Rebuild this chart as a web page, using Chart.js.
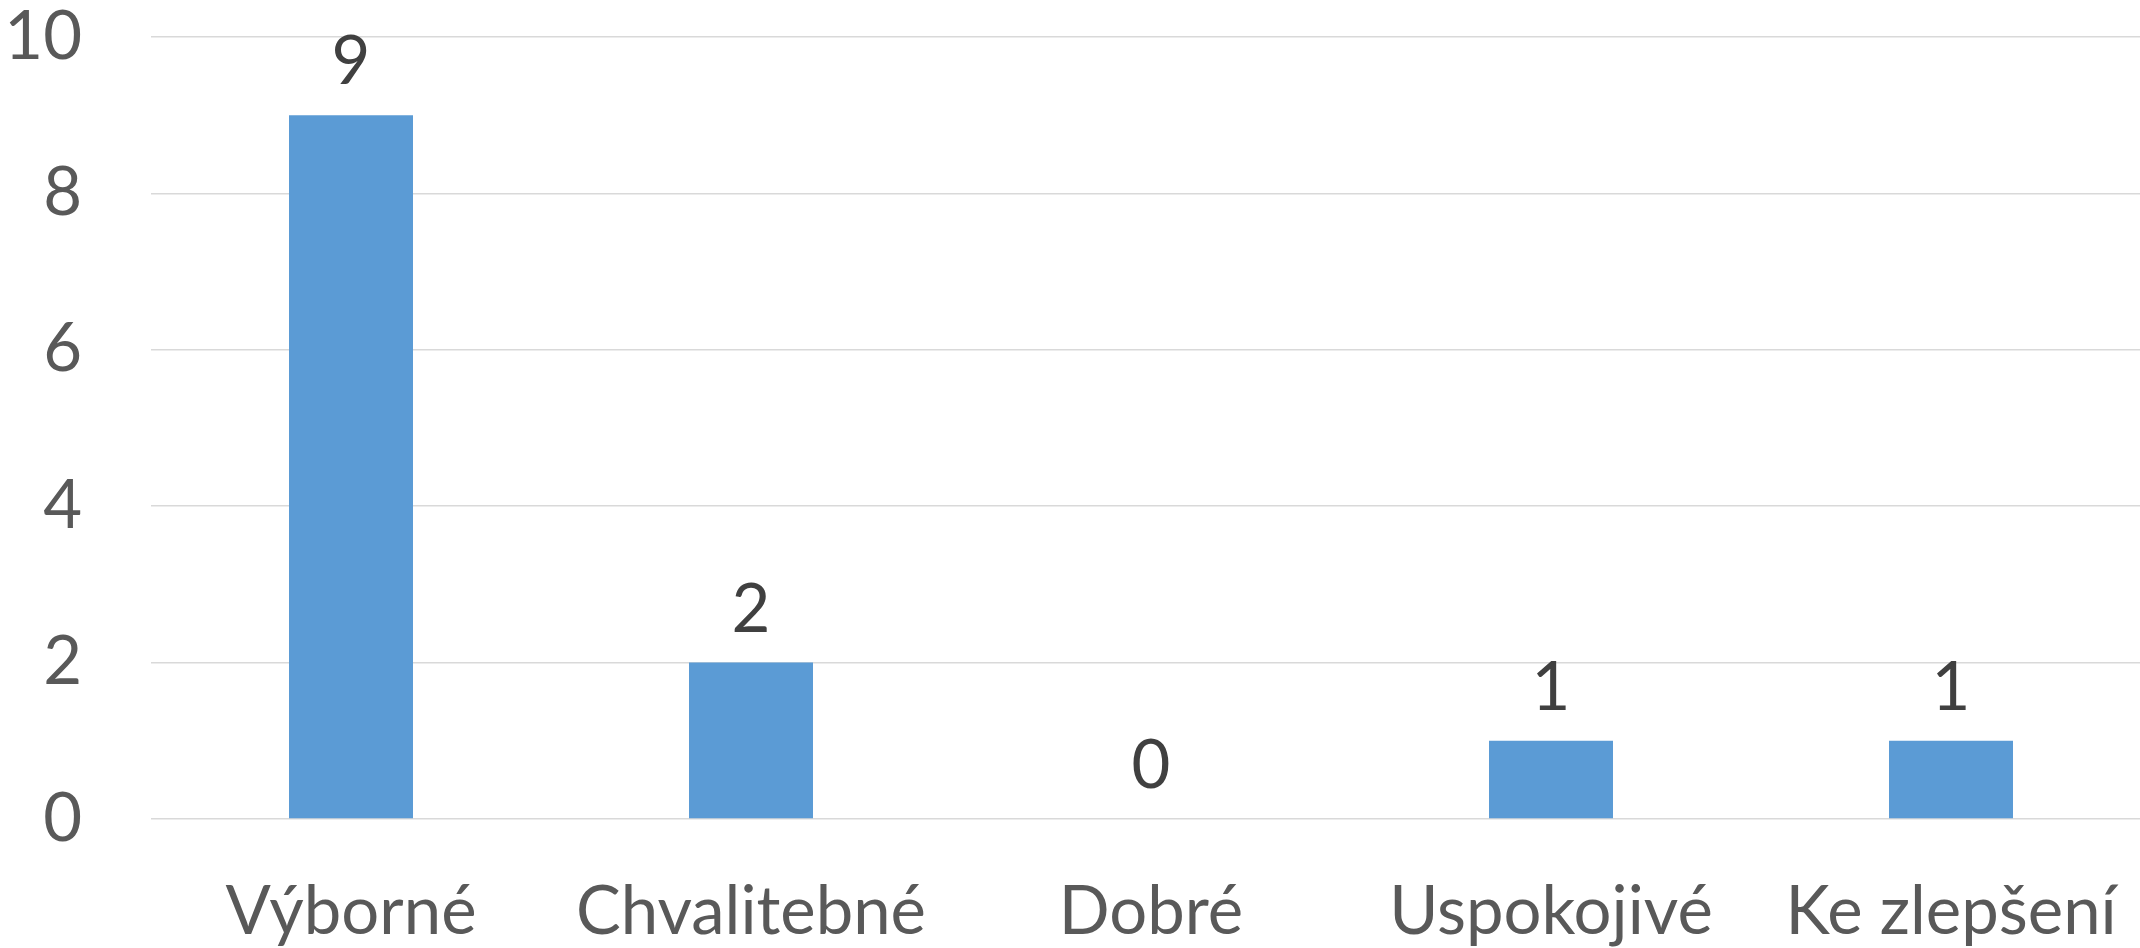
<!DOCTYPE html>
<html>
<head>
<meta charset="utf-8">
<script src="https://cdn.jsdelivr.net/npm/chart.js@4/dist/chart.umd.min.js"></script>
<style>
  html, body { margin: 0; background: #fff; overflow: hidden; width: 2140px; height: 948px; }
  canvas { display: block; }
</style>
</head>
<body>
<canvas id="chart" width="2151" height="948"></canvas>
<script>
const categories = ['Výborné', 'Chvalitebné', 'Dobré', 'Uspokojivé', 'Ke zlepšení'];
const counts = [9, 2, 0, 1, 1];
const yTicks = [0, 2, 4, 6, 8, 10];

const FONT = 'Lato';

// draw the value above each bar
const valueLabels = {
    id: 'valueLabels',
    afterDatasetsDraw(chart) {
        const ctx = chart.ctx;
        const meta = chart.getDatasetMeta(0);
        ctx.save();
        ctx.font = '67px ' + FONT;
        ctx.fillStyle = '#404040';
        ctx.textAlign = 'center';
        ctx.textBaseline = 'alphabetic';
        meta.data.forEach((bar, i) => {
            ctx.fillText(String(counts[i]), bar.x, bar.y - 31);
        });
        ctx.restore();
    }
};

new Chart(document.getElementById('chart').getContext('2d'), {
    type: 'bar',
    data: {
        labels: categories,
        datasets: [{
            data: counts,
            backgroundColor: '#5b9bd5',
            borderWidth: 0,
            categoryPercentage: 1,
            barPercentage: 0.31
        }]
    },
    options: {
        responsive: false,
        animation: false,
        layout: { padding: { top: 37, right: 0, bottom: 0, left: 0 } },
        plugins: {
            legend: { display: false },
            tooltip: { enabled: false }
        },
        scales: {
            x: {
                grid: { display: false, drawTicks: false },
                border: { display: false },
                ticks: {
                    color: '#595959',
                    font: { family: FONT, size: 67, lineHeight: 1 },
                    padding: 60,
                    maxRotation: 0,
                    autoSkip: false
                },
                afterFit(scale) {
                    scale.height = 129;
                    scale.paddingLeft = 0;
                    scale.paddingRight = 0;
                }
            },
            y: {
                min: 0,
                max: 10,
                afterBuildTicks(scale) {
                    scale.ticks = yTicks.map(v => ({ value: v }));
                },
                grid: { color: '#d9d9d9', lineWidth: 1.5, drawTicks: false },
                border: { display: false },
                ticks: {
                    color: '#595959',
                    font: { family: FONT, size: 67, lineHeight: 1 },
                    padding: 69
                },
                afterFit(scale) {
                    scale.width = 151;
                    scale.paddingTop = 0;
                    scale.paddingBottom = 0;
                }
            }
        }
    },
    plugins: [valueLabels]
});
</script>
</body>
</html>
